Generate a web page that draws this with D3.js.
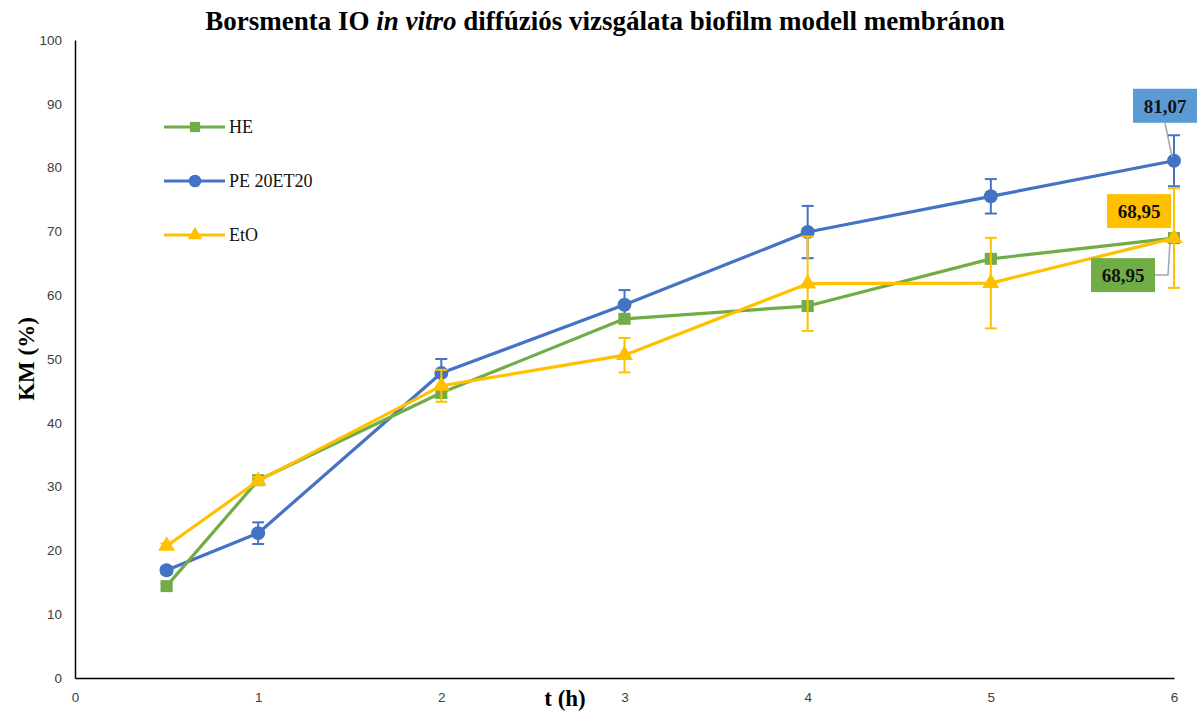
<!DOCTYPE html>
<html><head><meta charset="utf-8">
<script src="https://cdn.jsdelivr.net/npm/d3@7"></script>
<style>body{margin:0;background:#fff}svg{display:block}</style>
</head><body>
<svg id="c" width="1203" height="711"></svg>
<script>
const times = [0.5, 1, 2, 3, 4, 5, 6];
const seriesNames = ["HE", "PE 20ET20", "EtO"];
const heValues  = [14.4, 31.0, 44.7, 56.3, 58.3, 65.7, 68.95];
const heErrors  = [0.4, 0.6, 0.8, 0.6, 0.6, 0.6, 0.5];
const peValues  = [16.9, 22.7, 47.8, 58.5, 69.9, 75.5, 81.07];
const peErrors  = [0.5, 1.7, 2.2, 2.3, 4.1, 2.7, 4.0];
const etoValues = [20.7, 30.9, 45.8, 50.6, 61.8, 61.9, 68.95];
const etoErrors = [0.4, 0.6, 2.5, 2.7, 7.4, 7.1, 7.8];
const xTicks = [0, 1, 2, 3, 4, 5, 6];
const yTicks = [0, 10, 20, 30, 40, 50, 60, 70, 80, 90, 100];
const lastLabels = ["68,95", "81,07", "68,95"];

const colors = ["#70AD47", "#4472C4", "#FFC000"];
const labelBg = ["#70AD47", "#5B9BD5", "#FFC000"];
const shapes = ["square", "circle", "triangle"];

const svg = d3.select("#c");
const x = d3.scaleLinear().domain([0, 6]).range([75, 1174]);
const y = d3.scaleLinear().domain([0, 100]).range([678, 40]);

// title
svg.append("text").attr("x", 605).attr("y", 30).attr("text-anchor", "middle")
  .attr("font-family", "Liberation Serif, serif").attr("font-weight", "bold").attr("font-size", 27)
  .attr("fill", "#000")
  .call(t => {
    t.append("tspan").text("Borsmenta IO ");
    t.append("tspan").attr("font-style", "italic").text("in vitro");
    t.append("tspan").text("  diffúziós vizsgálata biofilm modell membránon");
  });

// axes
const fmt = d3.format("d");
const yAxis = svg.append("g").attr("transform", "translate(75,0)")
  .call(d3.axisLeft(y).tickValues(yTicks).tickFormat(fmt).tickSize(0).tickPadding(13));
const xAxis = svg.append("g").attr("transform", "translate(0,678)")
  .call(d3.axisBottom(x).tickValues(xTicks).tickFormat(fmt).tickSize(0).tickPadding(14));
[yAxis, xAxis].forEach(a => {
  a.select(".domain").attr("stroke", "#000").attr("stroke-width", 1.5);
  a.selectAll("text").attr("font-family", "Liberation Sans, Arial, sans-serif").attr("font-size", 13.5).attr("fill", "#404040");
});

// axis titles
svg.append("text").attr("x", 565).attr("y", 706).attr("text-anchor", "middle")
  .attr("font-family", "Liberation Serif, serif").attr("font-weight", "bold").attr("font-size", 23).text("t (h)");
svg.append("text").attr("transform", "translate(34,359) rotate(-90)").attr("text-anchor", "middle")
  .attr("font-family", "Liberation Serif, serif").attr("font-weight", "bold").attr("font-size", 23).text("KM (%)");

const allValues = [heValues, peValues, etoValues];
const allErrors = [heErrors, peErrors, etoErrors];

function drawMarker(g, shape, color, cx, cy, scale) {
  const s = scale || 1;
  if (shape === "circle") g.append("circle").attr("cx", cx).attr("cy", cy).attr("r", 7 * s).attr("fill", color);
  else if (shape === "square") g.append("rect").attr("x", cx - 6 * s).attr("y", cy - 6 * s).attr("width", 12 * s).attr("height", 12 * s).attr("fill", color);
  else g.append("path").attr("d", d3.symbol(d3.symbolTriangle, 125 * s * s)()).attr("transform", `translate(${cx},${cy})`).attr("fill", color);
}

const order = [1, 0, 2];
order.forEach(i => {
  const g = svg.append("g");
  const vals = allValues[i], errs = allErrors[i], col = colors[i];
  const pts = times.map((t, j) => [t, vals[j], errs[j]]);
  pts.forEach(p => {
    g.append("line").attr("x1", x(p[0])).attr("x2", x(p[0])).attr("y1", y(p[1] - p[2])).attr("y2", y(p[1] + p[2]))
      .attr("stroke", col).attr("stroke-width", 2);
    [p[1] - p[2], p[1] + p[2]].forEach(v => g.append("line").attr("x1", x(p[0]) - 6).attr("x2", x(p[0]) + 6)
      .attr("y1", y(v)).attr("y2", y(v)).attr("stroke", col).attr("stroke-width", 2));
  });
  g.append("path").datum(pts).attr("fill", "none").attr("stroke", col).attr("stroke-width", 3.2)
    .attr("stroke-linejoin", "round")
    .attr("d", d3.line().x(d => x(d[0])).y(d => y(d[1])));
  pts.forEach(p => drawMarker(g, shapes[i], col, x(p[0]), y(p[1])));
});

// legend
seriesNames.forEach((n, i) => {
  const ly = 127 + i * 54;
  const g = svg.append("g");
  g.append("line").attr("x1", 164).attr("x2", 225).attr("y1", ly).attr("y2", ly).attr("stroke", colors[i]).attr("stroke-width", 3.2);
  drawMarker(g, shapes[i], colors[i], 195, ly, i === 1 ? 0.9 : 0.85);
  g.append("text").attr("x", 229).attr("y", ly + 6).attr("font-family", "Liberation Serif, serif").attr("font-size", 18).attr("fill", "#111").text(n);
});

// data labels for last point
const lastT = times[times.length - 1];
const labelSpecs = [
  {i: 0, dx: -83, dy: 20, leader: true},
  {i: 1, dx: -41, dy: -72, leader: true},
  {i: 2, dx: -67, dy: -44, leader: false}
];
labelSpecs.forEach(s => {
  const px = x(lastT), py = y(allValues[s.i][allValues[s.i].length - 1]);
  const bx = px + s.dx, by = py + s.dy, w = 64, h = 34;
  const g = svg.append("g");
  if (s.leader) {
    if (s.i === 1) g.append("polyline").attr("points", `${bx + w / 2},${by + h} ${px - 2},${py - 4}`).attr("fill", "none").attr("stroke", "#A5A5A5").attr("stroke-width", 1.5);
    else g.append("polyline").attr("points", `${bx + w},${by + h / 2} ${px - 6},${by + h / 2} ${px - 4},${py + 4}`).attr("fill", "none").attr("stroke", "#A5A5A5").attr("stroke-width", 1.5);
  }
  g.append("rect").attr("x", bx).attr("y", by).attr("width", w).attr("height", h).attr("fill", labelBg[s.i]);
  g.append("text").attr("x", bx + w / 2).attr("y", by + h / 2 + 7).attr("text-anchor", "middle")
    .attr("font-family", "Liberation Serif, serif").attr("font-weight", "bold").attr("font-size", 19).attr("fill", "#111")
    .text(lastLabels[s.i]);
});
</script>
</body></html>
